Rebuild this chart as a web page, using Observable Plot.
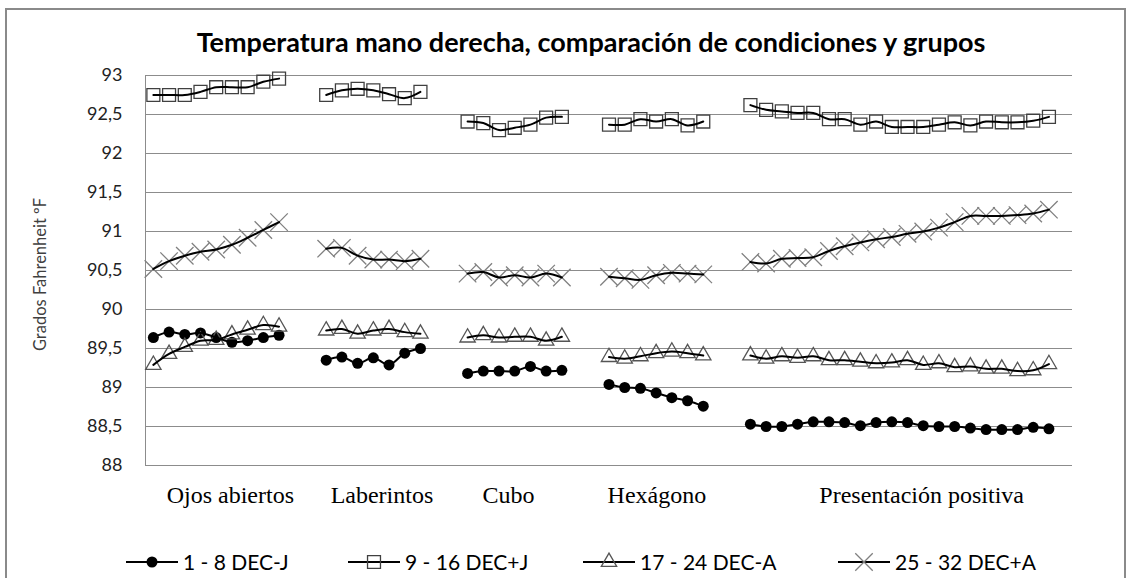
<!DOCTYPE html>
<html><head><meta charset="utf-8">
<script src="https://cdn.jsdelivr.net/npm/d3@7"></script>
<script src="https://cdn.jsdelivr.net/npm/@observablehq/plot@0.6"></script>
<style>
body{margin:0;background:#fff;}
#wrap{position:relative;width:1132px;height:578px;overflow:hidden;font-family:Lato,sans-serif;color:#000;}
#border{position:absolute;left:5px;top:8px;width:1121px;height:620px;border:2px solid #8a8a8a;box-sizing:border-box;}
#title{position:absolute;top:28px;left:591px;transform:translateX(-50%);white-space:nowrap;font-weight:bold;font-size:27px;line-height:1;}
#chart{position:absolute;left:0;top:0;}
.leg{position:absolute;top:549px;display:flex;align-items:center;white-space:nowrap;font-size:21px;}
.leg svg{margin-right:5px;}
</style></head>
<body><div id="wrap"><div id="border"></div><div id="title"></div><div id="chart"></div></div>
<script>
const titleText = "Temperatura mano derecha, comparación de condiciones y grupos";
const yLabel = "Grados Fahrenheit ºF";
const groups = ["Ojos abiertos", "Laberintos", "Cubo", "Hexágono", "Presentación positiva"];
const groupStart = [0, 11, 20, 29, 38];
const labelPos = [5.4, 15.05, 23.1, 32.55, 49.4];
const slotCount = 59;
const yTicks = [88, 88.5, 89, 89.5, 90, 90.5, 91, 91.5, 92, 92.5, 93];
const seriesNames = ["1 - 8 DEC-J", "9 - 16 DEC+J", "17 - 24 DEC-A", "25 - 32 DEC+A"];

const decMenosJ = [
  [89.64, 89.71, 89.68, 89.70, 89.64, 89.58, 89.60, 89.64, 89.67],
  [89.35, 89.39, 89.31, 89.38, 89.29, 89.44, 89.50],
  [89.18, 89.21, 89.21, 89.21, 89.27, 89.21, 89.22],
  [89.04, 89.00, 88.99, 88.93, 88.87, 88.83, 88.76],
  [88.53, 88.50, 88.50, 88.53, 88.56, 88.56, 88.55, 88.51, 88.55, 88.56, 88.55, 88.51, 88.50, 88.50, 88.48, 88.46, 88.46, 88.46, 88.49, 88.47]
];
const decMasJ = [
  [92.75, 92.75, 92.75, 92.79, 92.85, 92.85, 92.85, 92.92, 92.96],
  [92.75, 92.81, 92.83, 92.81, 92.76, 92.71, 92.79],
  [92.41, 92.39, 92.30, 92.33, 92.37, 92.46, 92.47],
  [92.37, 92.37, 92.44, 92.41, 92.44, 92.36, 92.41],
  [92.62, 92.56, 92.54, 92.52, 92.52, 92.44, 92.44, 92.37, 92.41, 92.34, 92.34, 92.34, 92.37, 92.40, 92.36, 92.41, 92.40, 92.40, 92.42, 92.47]
];
const decMenosA = [
  [89.29, 89.43, 89.52, 89.60, 89.61, 89.68, 89.74, 89.80, 89.78],
  [89.73, 89.75, 89.69, 89.73, 89.75, 89.71, 89.69],
  [89.64, 89.67, 89.64, 89.65, 89.65, 89.60, 89.65],
  [89.39, 89.37, 89.40, 89.44, 89.46, 89.44, 89.41],
  [89.41, 89.37, 89.40, 89.38, 89.40, 89.35, 89.35, 89.33, 89.31, 89.32, 89.35, 89.29, 89.31, 89.26, 89.27, 89.24, 89.24, 89.21, 89.22, 89.30]
];
const decMasA = [
  [90.52, 90.62, 90.69, 90.74, 90.77, 90.83, 90.92, 91.02, 91.12],
  [90.78, 90.79, 90.69, 90.64, 90.64, 90.62, 90.65],
  [90.46, 90.48, 90.41, 90.44, 90.41, 90.46, 90.41],
  [90.42, 90.40, 90.38, 90.44, 90.47, 90.46, 90.45],
  [90.61, 90.59, 90.65, 90.66, 90.67, 90.75, 90.81, 90.86, 90.90, 90.93, 90.97, 91.00, 91.05, 91.12, 91.20, 91.20, 91.20, 91.21, 91.23, 91.28]
];

const seriesValues = [decMenosJ, decMasJ, decMenosA, decMasA];
const rows = [];
seriesValues.forEach((sv, si) => sv.forEach((vals, gi) => vals.forEach((v, i) => rows.push({
  series: seriesNames[si], group: groups[gi], slot: groupStart[gi] + i + 0.5, value: v
}))));

const styles = [
  {symbol: "circle", r: 5.5, fill: "#000", stroke: "none", strokeWidth: 0},
  {symbol: "square", r: 7.3, fill: "none", stroke: "#404040", strokeWidth: 1.3},
  {symbol: "triangle", r: 5.7, fill: "none", stroke: "#555", strokeWidth: 1.3},
  {symbol: "times", r: 8, fill: "none", stroke: "#808080", strokeWidth: 1.3}
];

document.getElementById("title").textContent = titleText;
const fmt = d => String(d).replace(".", ",");

const dotMarks = seriesNames.map((s, i) => Plot.dot(rows.filter(d => d.series === s), {
  x: "slot", y: "value", symbol: () => styles[i].symbol, r: styles[i].r,
  fill: styles[i].fill, stroke: styles[i].stroke, strokeWidth: styles[i].strokeWidth
}));

const chart = Plot.plot({
  width: 1132, height: 530,
  marginLeft: 145, marginRight: 60, marginTop: 75, marginBottom: 65,
  style: {background: "transparent", fontFamily: "Lato, sans-serif"},
  x: {domain: [0, slotCount], axis: null},
  y: {domain: [yTicks[0], yTicks[yTicks.length - 1]], axis: null},
  symbol: {type: "identity"},
  marks: [
    Plot.ruleY(yTicks, {stroke: "#8c8c8c", strokeWidth: 1}),
    Plot.ruleX([0], {stroke: "#8c8c8c", strokeWidth: 1}),
    Plot.axisY(yTicks, {tickSize: 0, tickPadding: 23, tickFormat: fmt, fontSize: 18, fill: "#222", label: null}),
    Plot.text([yLabel], {frameAnchor: "left", textAnchor: "middle", dx: -105, dy: 4, rotate: -90, fontSize: 16.5, fill: "#404040"}),
    ...dotMarks,
    Plot.line(rows, {x: "slot", y: "value", z: d => d.series + "|" + d.group, curve: "catmull-rom", stroke: "#000", strokeWidth: 2}),
    Plot.text(groups, {x: (d, i) => labelPos[i], frameAnchor: "bottom", dy: 37, fontSize: 24, fontFamily: "Liberation Serif, Times New Roman, serif", fill: "#000"})
  ]
});
document.getElementById("chart").appendChild(chart);

// legend
const legendLeft = [126, 348, 583, 838];
const wrap = document.getElementById("wrap");
seriesNames.forEach((s, i) => {
  const div = document.createElement("div");
  div.className = "leg";
  div.style.left = legendLeft[i] + "px";
  const st = styles[i];
  const svg = d3.create("svg").attr("width", 52).attr("height", 22);
  svg.append("line").attr("x1", 0).attr("x2", 52).attr("y1", 11).attr("y2", 11).attr("stroke", "#000").attr("stroke-width", 2);
  const sym = {circle: d3.symbolCircle, square: d3.symbolSquare, triangle: d3.symbolTriangle, times: d3.symbolTimes}[st.symbol];
  svg.append("path").attr("transform", "translate(26,11)")
    .attr("d", d3.symbol(sym, Math.PI * st.r * st.r)())
    .attr("fill", st.fill).attr("stroke", st.stroke).attr("stroke-width", st.strokeWidth);
  div.appendChild(svg.node());
  const span = document.createElement("span");
  span.textContent = s;
  div.appendChild(span);
  wrap.appendChild(div);
});
</script></body></html>
